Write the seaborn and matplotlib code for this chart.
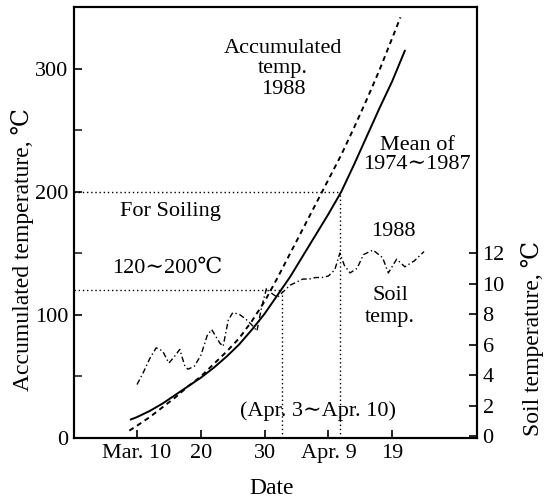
import matplotlib
matplotlib.use("Agg")
import matplotlib.pyplot as plt
import seaborn as sns
import pandas as pd

# ---- data (x = day number counted in March: Mar.10 = 10, Apr.9 = 40) ----
mean_days = [9, 10, 12, 14, 16, 18, 20, 22, 24, 26, 28, 30, 32, 34, 36, 38, 40, 42, 44, 46, 48, 50, 52]
mean_acc = [15, 17, 22, 28, 35, 42, 49, 57, 66, 76, 88, 101, 116, 131, 148, 165, 182, 200, 222, 245, 268, 290, 315]

y1988_days = [8.8, 10, 12, 14, 16, 18, 20, 22, 24, 26, 28, 30, 32, 34, 36, 38, 40, 42, 44, 46, 48, 50, 51.3]
y1988_acc = [6, 10, 17, 25, 33, 42, 50, 60, 70, 81, 95, 111, 130, 150, 170, 190, 210, 230, 252, 275, 299, 325, 342]

soil_days = [10, 11, 12, 13, 14, 15, 16, 16.7, 17.5, 18, 19, 20, 21, 21.7, 23, 23.5, 24.3, 25, 26, 27, 28, 28.8,
             29.5, 30.3, 31, 32, 33, 34, 35, 36, 37, 38, 39, 40, 41, 41.8, 42.5, 43.4, 44.5, 45.5, 47, 48.5,
             49.4, 50.7, 52, 53.5, 55]
soil_temp = [3.4, 4.2, 5.1, 5.8, 5.6, 4.8, 5.3, 5.7, 4.6, 4.4, 4.6, 5.3, 6.6, 7.0, 6.1, 5.9, 7.6, 8.1, 8.0, 7.7, 7.3, 6.9,
             8.4, 9.7, 9.4, 9.1, 9.5, 9.9, 10.1, 10.3, 10.3, 10.4, 10.4, 10.5, 10.9, 12.0, 11.2, 10.7, 11.0, 11.9, 12.2, 11.7,
             10.7, 11.6, 11.1, 11.5, 12.1]

soiling_range = [120, 200]          # accumulated temp. for soiling
soiling_dates = [32.8, 41.8]        # Apr.3 ~ Apr.10 positions on mean curve

x_tick_pos = [10, 20, 30, 40, 50]
x_tick_labels = ["Mar. 10", "20", "30", "Apr. 9", "19"]
left_ticks = [0, 100, 200, 300]
left_minor = [50, 150, 250]
right_ticks = [0, 2, 4, 6, 8, 10, 12]

# ---- style ----
sns.set_theme(style="ticks")
plt.rcParams['font.family'] = ['Liberation Serif', 'DejaVu Serif', 'DejaVu Sans', 'Noto Sans CJK JP']
plt.rcParams['axes.unicode_minus'] = False
plt.rcParams['text.color'] = 'black'

W, H = 546, 500
fig = plt.figure(figsize=(W / 100, H / 100), dpi=100)
ax = fig.add_axes([74 / W, 1 - 438 / H, (477 - 74) / W, (438 - 7) / H])
ax2 = ax.twinx()

df_mean = pd.DataFrame({"day": mean_days, "acc": mean_acc})
df_88 = pd.DataFrame({"day": y1988_days, "acc": y1988_acc})
df_soil = pd.DataFrame({"day": soil_days, "soil": soil_temp})

sns.lineplot(data=df_mean, x="day", y="acc", ax=ax, color="black", lw=1.4, sort=False)
sns.lineplot(data=df_88, x="day", y="acc", ax=ax, color="black", lw=1.4, sort=False,
             linestyle=(0, (2.6, 2.1)))
sns.lineplot(data=df_soil, x="day", y="soil", ax=ax2, color="black", lw=1.0, sort=False,
             linestyle=(0, (4, 2, 1, 2)))

xmin, xmax = 0.12, 63.3
ax.set_xlim(xmin, xmax)
ax.set_ylim(0, 350.4)
ax2.set_ylim(-0.1, 28.1)

# dotted guide lines
dot = (0, (1, 2))
ax.plot([xmin, soiling_dates[0]], [soiling_range[0], soiling_range[0]], color="black", lw=1.0, linestyle=dot)
ax.plot([xmin, soiling_dates[1]], [soiling_range[1], soiling_range[1]], color="black", lw=1.0, linestyle=dot)
ax.plot([soiling_dates[0], soiling_dates[0]], [0, soiling_range[0]], color="black", lw=1.0, linestyle=dot)
ax.plot([soiling_dates[1], soiling_dates[1]], [0, soiling_range[1]], color="black", lw=1.0, linestyle=dot)

# ticks
ax.set_xticks(x_tick_pos)
ax.set_xticklabels(x_tick_labels)
ax.set_yticks(left_ticks)
ax.set_yticks(left_minor, minor=True)
ax2.set_yticks(right_ticks)
ax.tick_params(axis="both", which="major", direction="in", length=6, width=1.2, labelsize=16, pad=4, colors="black")
ax.tick_params(axis="y", which="minor", direction="in", length=6, width=1.2)
ax2.tick_params(axis="y", direction="in", length=6, width=1.2, labelsize=16, pad=4, colors="black")
ax.set_xlabel("")
ax.set_ylabel("")
ax2.set_ylabel("")
for a in (ax, ax2):
    for s in a.spines.values():
        s.set_linewidth(1.5)
        s.set_color("black")

# annotations
fs = 16
ax.text(32.9, 300, "Accumulated\ntemp.\n1988", ha="center", va="center", fontsize=fs, linespacing=1.1)
ax.text(53.9, 230, "Mean of\n1974∼1987", ha="center", va="center", fontsize=fs, linespacing=1.05)
ax.text(50.2, 168, "1988", ha="center", va="center", fontsize=fs)
ax.text(49.7, 107, "Soil\ntemp.", ha="center", va="center", fontsize=fs, linespacing=1.2)
ax.text(15.2, 184, "For Soiling", ha="center", va="center", fontsize=fs)
ax.text(14.7, 138, "120∼200℃", ha="center", va="center", fontsize=fs)
ax.text(38.4, 22, "(Apr. 3∼Apr. 10)", ha="center", va="center", fontsize=fs)

fig.text(272 / W, 1 - 488 / H, "Date", ha="center", va="center", fontsize=17)
fig.text(23 / W, 1 - 250 / H, "Accumulated temperature, ℃", ha="center", va="center", rotation=90, fontsize=17)
fig.text(532 / W, 1 - 338 / H, "Soil temperature, ℃", ha="center", va="center", rotation=90, fontsize=17)

fig.savefig("out.png", dpi=100, facecolor="white")
